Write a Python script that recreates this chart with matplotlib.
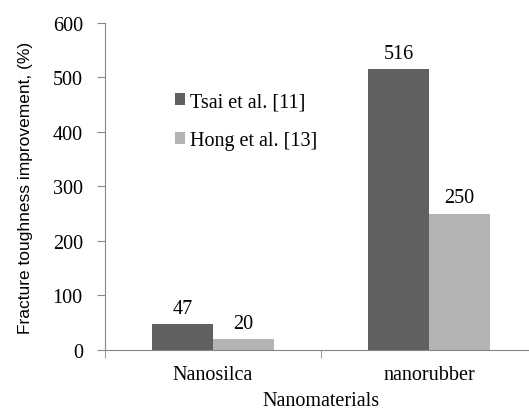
import matplotlib
matplotlib.use('Agg')
import matplotlib.pyplot as plt
import numpy as np

categories = ['Nanosilca', 'nanorubber']
tsai = [47, 516]
hong = [20, 250]
series_names = ['Tsai et al. [11]', 'Hong et al. [13]']

dark = '#606060'
light = '#b3b3b3'
axis_grey = '#868686'
serif = 'Liberation Serif'
fs = 14.5

fig = plt.figure(figsize=(5.29, 4.10), dpi=100)
ax = fig.add_axes([0.1985, 0.1439, 0.8166, 0.7976])

x = np.arange(len(categories))
w = 0.283
b1 = ax.bar(x - w / 2, tsai, w, color=dark, label=series_names[0])
b2 = ax.bar(x + w / 2, hong, w, color=light, label=series_names[1])

for bars, vals in [(b1, tsai), (b2, hong)]:
    for r, v in zip(bars, vals):
        ax.annotate(str(v), (r.get_x() + r.get_width() / 2, v), xytext=(0, 4.5),
                    textcoords='offset points', ha='center', va='bottom',
                    fontsize=fs, family=serif)

ax.set_xlim(-0.5, 1.5)
ax.set_ylim(0, 600)
ax.set_yticks(range(0, 601, 100))
ax.set_xticks(x)
ax.set_xticklabels(categories, family=serif, fontsize=fs)
ax.set_xticks([-0.5, 0.5, 1.5], minor=True)
ax.tick_params(axis='x', which='major', length=0, pad=11)
ax.tick_params(axis='x', which='minor', length=6, color=axis_grey, direction='out')
ax.tick_params(axis='y', length=6, color=axis_grey, direction='out', pad=10)
for lab in ax.get_yticklabels():
    lab.set_family(serif)
    lab.set_fontsize(fs)

for s in ['top', 'right']:
    ax.spines[s].set_visible(False)
for s in ['left', 'bottom']:
    ax.spines[s].set_color(axis_grey)

ax.set_ylabel('Fracture toughness improvement, (%)', family='Liberation Sans', fontsize=12.5, labelpad=14)
ax.set_xlabel('Nanomaterials', family=serif, fontsize=fs, labelpad=5)

ax.legend(loc='center left', bbox_to_anchor=(0.12, 0.70), frameon=False,
          prop={'family': serif, 'size': fs},
          handlelength=0.5, handleheight=0.5, handletextpad=0.25, labelspacing=1.0)

fig.savefig('out.png', dpi=100)
